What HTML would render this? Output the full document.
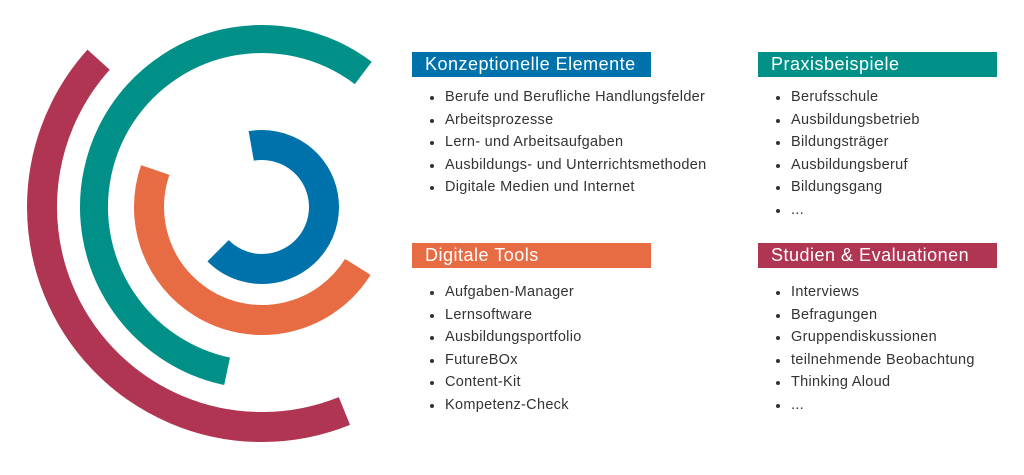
<!DOCTYPE html>
<html><head><meta charset="utf-8"><style>
body{margin:0;width:1024px;height:475px;background:#fff;position:relative;overflow:hidden;font-family:"Liberation Sans",sans-serif}
.h{position:absolute;width:239px;height:25px;color:#fff;font-size:18px;letter-spacing:0.5px;line-height:25px;padding-left:13px;box-sizing:border-box;white-space:nowrap}
ul{position:absolute;margin:0;padding:0;list-style:none;font-size:14.5px;letter-spacing:0.3px;color:#333;white-space:nowrap}
li{height:22.5px;line-height:22.5px;position:relative;padding-left:33px}
li:before{content:"";position:absolute;left:18px;top:10px;width:4px;height:4px;border-radius:50%;background:#333}
</style></head><body>
<svg width="400" height="475" style="position:absolute;left:0;top:0">
<g fill="none" stroke-width="30">
<circle cx="262" cy="207" r="62" stroke="#0072ab" stroke-dasharray="254.3 1000" transform="rotate(-100 262 207)"/>
<circle cx="262" cy="207" r="113" stroke="#e86c43" stroke-dasharray="329.4 1000" transform="rotate(32 262 207)"/>
<circle cx="262" cy="207" r="168" stroke="#009087" stroke-width="28" stroke-dasharray="601.1 2000" transform="rotate(102 262 207)"/>
<circle cx="262" cy="207" r="220" stroke="#b03552" stroke-dasharray="591.3 2000" transform="rotate(68 262 207)"/>
</g></svg>
<div class="h" style="left:412px;top:52px;background:#0072ab">Konzeptionelle Elemente</div>
<ul style="left:412px;top:86px"><li>Berufe und Berufliche Handlungsfelder</li><li>Arbeitsprozesse</li><li>Lern- und Arbeitsaufgaben</li><li>Ausbildungs- und Unterrichtsmethoden</li><li>Digitale Medien und Internet</li></ul>
<div class="h" style="left:758px;top:52px;background:#009087">Praxisbeispiele</div>
<ul style="left:758px;top:86px"><li>Berufsschule</li><li>Ausbildungsbetrieb</li><li>Bildungsträger</li><li>Ausbildungsberuf</li><li>Bildungsgang</li><li>...</li></ul>
<div class="h" style="left:412px;top:243px;background:#e86c43">Digitale Tools</div>
<ul style="left:412px;top:281px"><li>Aufgaben-Manager</li><li>Lernsoftware</li><li>Ausbildungsportfolio</li><li>FutureBOx</li><li>Content-Kit</li><li>Kompetenz-Check</li></ul>
<div class="h" style="left:758px;top:243px;background:#b03552">Studien &amp; Evaluationen</div>
<ul style="left:758px;top:281px"><li>Interviews</li><li>Befragungen</li><li>Gruppendiskussionen</li><li>teilnehmende Beobachtung</li><li>Thinking Aloud</li><li>...</li></ul>
</body></html>
